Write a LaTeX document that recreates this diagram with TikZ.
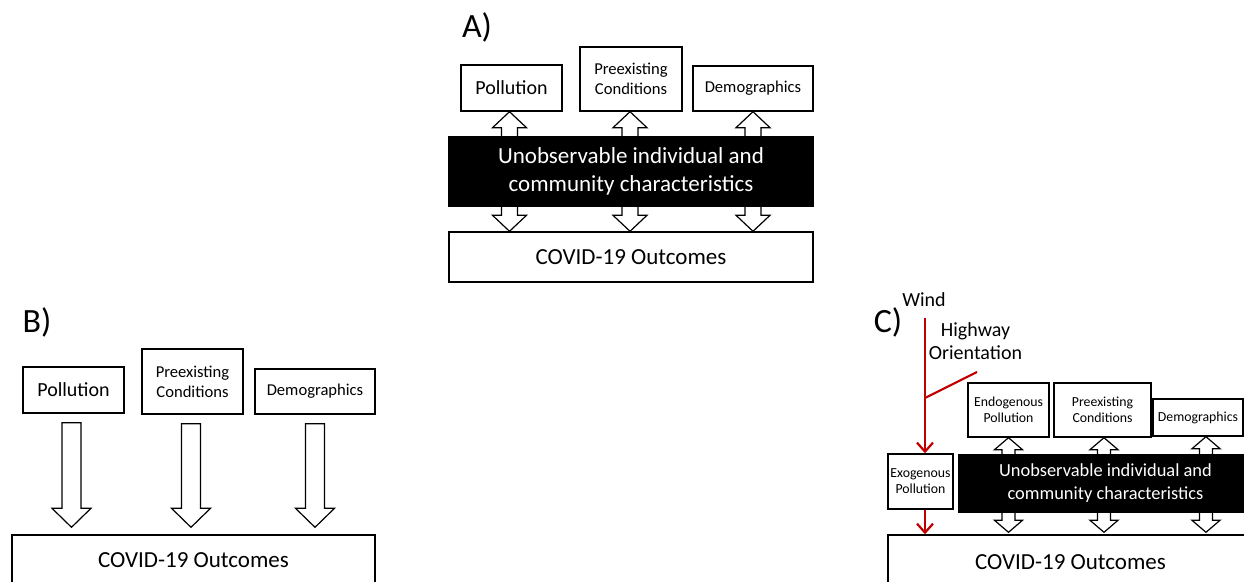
\documentclass[tikz,border=0pt]{standalone}
\usepackage{fontspec}
\setmainfont{Carlito}
\usepackage{tikz}
\usetikzlibrary{calc,arrows.meta}

\definecolor{pathred}{HTML}{C00000}

\tikzset{
  box/.style={draw, fill=white, line width=0.7pt, inner sep=0pt, align=center},
  darkbox/.style={draw, fill=black, text=white, line width=0.7pt, inner sep=0pt, align=center},
  blockarrow/.style={draw, fill=white, line width=0.6pt, line join=miter},
  redline/.style={draw=pathred, line width=1.1pt},
  redtip/.style={-{Straight Barb[length=4.5pt,width=8pt]}},
  paneltag/.style={font=\fontsize{17}{20}\selectfont},
  bigtxt/.style={font=\fontsize{11.5}{14}\selectfont},
  midtxt/.style={font=\fontsize{10}{12}\selectfont},
  smalltxt/.style={font=\fontsize{8.3}{10}\selectfont},
  tinytxt/.style={font=\fontsize{6.9}{8}\selectfont},
}

% block arrow with two heads: #1 upper tip, #2 lower tip, #3 half shaft, #4 half head, #5 head length
\newcommand{\dblblock}[5]{%
  \draw[blockarrow] let \p1=(#1), \p2=(#2) in
    (\x1,\y1) -- (\x1+#4,\y1-#5) -- (\x1+#3,\y1-#5) -- (\x1+#3,\y2+#5)
    -- (\x1+#4,\y2+#5) -- (\x1,\y2) -- (\x1-#4,\y2+#5) -- (\x1-#3,\y2+#5)
    -- (\x1-#3,\y1-#5) -- (\x1-#4,\y1-#5) -- cycle;}
% block arrow with one head pointing down, small gaps at both ends
\newcommand{\downblock}[2]{%
  \draw[blockarrow] let \p1=(#1), \p2=(#2) in
    (\x1-4.75pt,\y1-4.5pt) -- (\x1+4.75pt,\y1-4.5pt) -- (\x1+4.75pt,\y2+13pt)
    -- (\x1+9.75pt,\y2+13pt) -- (\x1,\y2+3.5pt) -- (\x1-9.75pt,\y2+13pt)
    -- (\x1-4.75pt,\y2+13pt) -- cycle;}

\begin{document}
\begin{tikzpicture}[x=0.5pt,y=-0.5pt]
  \clip (0,0) rectangle (1244,582);

  % A) with unobserved characteristics
  \node[paneltag] (tagA) at (477,27) {A)};
  \node[box, midtxt, minimum width=50.5pt, minimum height=23pt] (pollA) at (511.5,88) {Pollution};
  \node[box, smalltxt, minimum width=51pt, minimum height=32pt] (preA) at (631,79) {Preexisting\\Conditions};
  \node[box, smalltxt, minimum width=60pt, minimum height=22.5pt] (demoA) at (753,88.5) {Demographics};
  \node[box, bigtxt, minimum width=182pt, minimum height=25pt] (covidA) at (631,257) {COVID-19 Outcomes};
  \dblblock{[xshift=-1pt]pollA.south}{covidA.north}{4pt}{8.5pt}{8pt}
  \dblblock{[xshift=-0.5pt]preA.south}{covidA.north}{4pt}{8.5pt}{8pt}
  \dblblock{demoA.south}{covidA.north}{4pt}{8.5pt}{8pt}
  \node[darkbox, bigtxt, minimum width=182pt, minimum height=34.5pt] (unobsA) at (631,171.5)
    {Unobservable individual and\\community characteristics};

  % B) naive model
  \node[paneltag] (tagB) at (37,322) {B)};
  \node[box, midtxt, minimum width=50.5pt, minimum height=23pt] (pollB) at (73.5,390) {Pollution};
  \node[box, smalltxt, minimum width=50.5pt, minimum height=32.5pt] (preB) at (192.5,381.5) {Preexisting\\Conditions};
  \node[box, smalltxt, minimum width=60pt, minimum height=22.5pt] (demoB) at (315,391.5) {Demographics};
  \node[box, bigtxt, minimum width=181.5pt, minimum height=25pt] (covidB) at (193.5,560) {COVID-19 Outcomes};
  \downblock{[xshift=-1pt]pollB.south}{covidB.north}
  \downblock{[xshift=-0.75pt]preB.south}{covidB.north}
  \downblock{demoB.south}{covidB.north}

  % C) instruments
  \node[paneltag] (tagC) at (888,322) {C)};
  \node[midtxt] (wind) at (924,300) {Wind};
  \node[midtxt, align=center, inner sep=0pt] (hwy) at (975.5,341) {Highway\\[-0.5pt]Orientation};
  \node[box, tinytxt, minimum width=32.5pt, minimum height=27.5pt] (exoC) at (920.5,481.5) {Exogenous\\Pollution};
  \node[box, tinytxt, minimum width=40.5pt, minimum height=27pt] (endoC) at (1008.5,410) {Endogenous\\Pollution};
  \node[box, tinytxt, minimum width=48.5pt, minimum height=27pt] (preC) at (1102.5,410) {Preexisting\\Conditions};
  \node[box, tinytxt, minimum width=45pt, minimum height=18.5pt] (demoC) at (1198,417.5) {Demographics};
  \node[box, bigtxt, minimum width=182.5pt, minimum height=27pt] (covidC) at (1070.5,562) {COVID-19 Outcomes};
  \dblblock{endoC.south}{[yshift=1pt]covidC.north}{3.25pt}{7pt}{6pt}
  \dblblock{[xshift=0.75pt]preC.south}{[yshift=1pt]covidC.north}{3.25pt}{7pt}{6pt}
  \dblblock{[xshift=4pt]demoC.south}{[yshift=1pt]covidC.north}{3.25pt}{7pt}{6pt}
  \node[darkbox, font=\fontsize{9.2}{11.5}\selectfont, minimum width=146.5pt, minimum height=28.5pt] (unobsC) at (1105.5,483.5)
    {Unobservable individual and\\community characteristics};

  % red paths
  \coordinate (windtop) at (925,318);
  \coordinate (hwyend) at (977,372);
  \coordinate (junct) at (925,398);
  \draw[redline, redtip] (windtop) -- (windtop |- exoC.north);
  \draw[redline] (hwyend) -- (junct);
  \draw[redline, redtip] (windtop |- exoC.south) -- (windtop |- covidC.north);
\end{tikzpicture}
\end{document}
